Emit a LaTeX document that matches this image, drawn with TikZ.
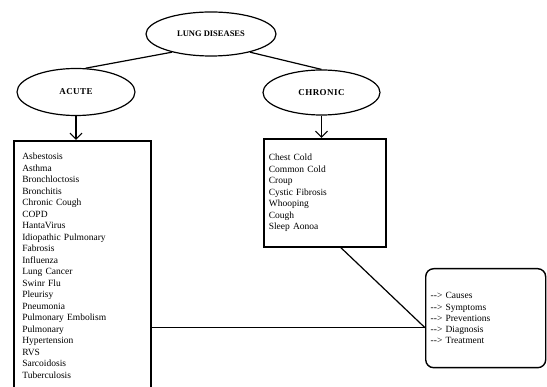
\documentclass[tikz,border=0pt]{standalone}
\usepackage{fontspec}
\setmainfont{Liberation Serif}
\usetikzlibrary{shapes.geometric,arrows.meta}

\newcommand{\dashto}{-{}-{}>\ }

\begin{document}
\begin{tikzpicture}[x=1pt,y=-1pt,
		oval/.style={draw, line width=1.2pt, ellipse, inner sep=0pt, font=\fontsize{8.5}{9}\selectfont\bfseries},
		spaced/.style={font=\fontsize{9}{10}\selectfont\bfseries\addfontfeature{LetterSpace=5}},
		listbox/.style={draw, line width=1.6pt, rectangle, align=left, font=\fontsize{9.5}{11.5}\selectfont},
		link/.style={line width=1.2pt},
		down/.style={line width=1.2pt, -{Straight Barb[length=6pt,width=12pt]}}]
		\clip (0,0) rectangle (547,387);
		\fill[white] (0,0) rectangle (547,387);
		
		\node[oval, minimum width=130pt, minimum height=44pt] (lung) at (211,34) {LUNG DISEASES};
		\node[oval, spaced, minimum width=118pt, minimum height=47pt] (acute) at (76,92) {ACUTE};
		\node[oval, spaced, minimum width=117pt, minimum height=45pt] (chronic) at (321.5,92.5) {CHRONIC};
		
		\node[listbox, anchor=north west, inner xsep=8.5pt, text width=120pt, minimum height=250pt] (acutebox) at (13,140) {%
			Asbestosis\\ Asthma\\ Bronchloctosis\\ Bronchitis\\ Chronic Cough\\ COPD\\ HantaVirus\\
			Idiopathic Pulmonary\\ Fabrosis\\ Influenza\\ Lung Cancer\\ Swinr Flu\\ Pleurisy\\ Pneumonia\\
			Pulmonary Embolism\\ Pulmonary\\ Hypertension\\ RVS\\ Sarcoidosis\\ Tuberculosis};
		\node[listbox, anchor=north west, inner xsep=5pt, text width=112pt, minimum height=108pt] (chronicbox) at (263,138) {%
			Chest Cold\\ Common Cold\\ Croup\\ Cystic Fibrosis\\ Whooping\\ Cough\\ Sleep Aonoa};
		\node[listbox, line width=1.4pt, rounded corners=8pt, anchor=north west, inner xsep=5pt, text width=110pt,
			minimum height=99pt, font=\fontsize{9.5}{11.25}\selectfont] (infobox) at (425,268) {%
			\dashto Causes\\ \dashto Symptoms\\ \dashto Preventions\\ \dashto Diagnosis\\ \dashto Treatment};
		\coordinate (meet) at ([yshift=-9.5pt]infobox.west);
		
		\draw[link] (lung.205) -- (acute.68);
		\draw[link] (lung.335) -- (chronic.north);
		\draw[down] (acute.south) -- (acute.south |- acutebox.north);
		\draw[down] (chronic.south) -- (chronic.south |- chronicbox.north);
		\draw[link] (acutebox.east |- meet) -- (meet);
		\draw[link] ([xshift=16pt]chronicbox.south) -- (meet);
	\end{tikzpicture}
\end{document}
